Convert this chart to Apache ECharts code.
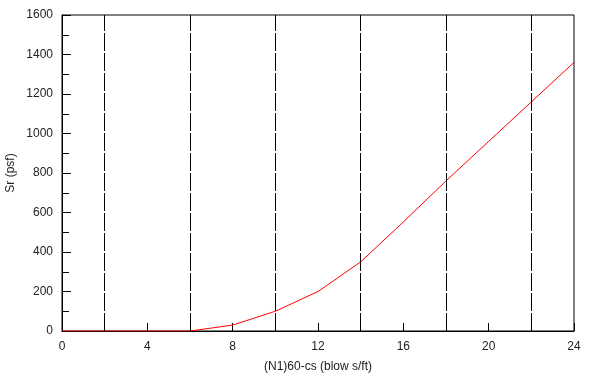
<!DOCTYPE html>
<html>
<head>
<meta charset="utf-8">
<script src="https://cdn.jsdelivr.net/npm/echarts@6/dist/echarts.min.js"></script>
<style>
  html, body { margin: 0; padding: 0; background: #fff; }
  #chart { width: 597px; height: 383px; }
</style>
</head>
<body>
<div id="chart"></div>
<script>
// blow count vs residual strength
const blows = [0, 2, 4, 6, 8, 10, 12, 14, 16, 18, 20, 22, 24]
const strength = [0, 0, 0, 0, 30, 100, 200, 350, 552, 760, 960, 1160, 1360]
// dashed reference lines
const refLines = [2, 6, 10, 14, 18, 22]

const font = 'Liberation Sans, Arial, sans-serif'
const chart = echarts.init(document.getElementById('chart'))

chart.setOption({
  animation: false,
  grid: {
    left: 62,
    right: 23,
    top: 15,
    bottom: 52,
    outerBoundsMode: 'none',
    containLabel: false,
    show: true,
    borderColor: '#000',
    borderWidth: 1
  },
  xAxis: {
    type: 'value',
    min: 0,
    max: 24,
    interval: 4,
    name: '(N1)60-cs (blow s/ft)',
    nameLocation: 'middle',
    nameGap: 30,
    nameMoveOverlap: false,
    nameTextStyle: { fontFamily: font, fontSize: 12, color: '#222' },
    axisLine: { lineStyle: { color: '#000', width: 1 } },
    axisTick: { inside: true, length: 8, lineStyle: { color: '#000' } },
    minorTick: { show: true, splitNumber: 2, length: 7, lineStyle: { color: '#000' } },
    axisLabel: { fontFamily: font, fontSize: 12, color: '#222', margin: 10 },
    splitLine: { show: false }
  },
  yAxis: {
    type: 'value',
    min: 0,
    max: 1600,
    interval: 200,
    name: 'Sr (psf)',
    nameLocation: 'middle',
    nameGap: 45,
    nameMoveOverlap: false,
    nameTextStyle: { fontFamily: font, fontSize: 12, color: '#222' },
    axisLine: { show: true, lineStyle: { color: '#000', width: 1 } },
    axisTick: { inside: true, length: 9, lineStyle: { color: '#000' } },
    minorTick: { show: true, splitNumber: 2, length: 7, lineStyle: { color: '#000' } },
    axisLabel: {
      fontFamily: font,
      fontSize: 12,
      color: '#222',
      margin: 9,
      formatter: v => String(v)
    },
    splitLine: { show: false }
  },
  series: [
    {
      type: 'line',
      data: blows.map((b, i) => [b, strength[i]]),
      showSymbol: false,
      lineStyle: { color: '#ff0000', width: 1 },
      z: 3,
      markLine: {
        silent: true,
        symbol: 'none',
        label: { show: false },
        lineStyle: { color: '#000', type: [18, 2], width: 1 },
        data: refLines.map(v => ({ xAxis: v }))
      }
    }
  ]
})
</script>
</body>
</html>
